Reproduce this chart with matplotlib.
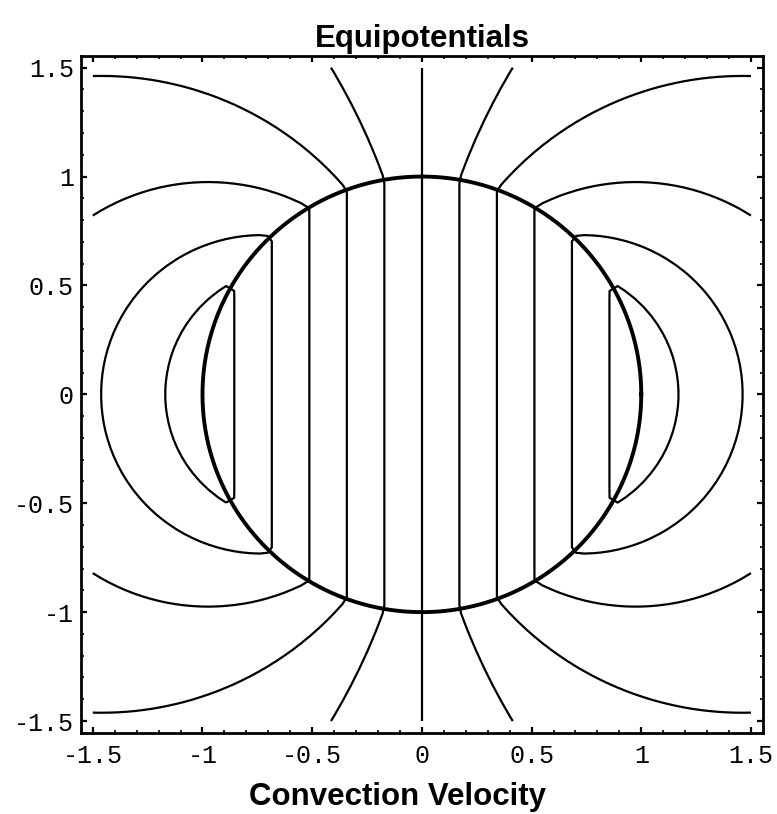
import numpy as np
import matplotlib.pyplot as plt
from matplotlib.ticker import MultipleLocator

# equipotential levels (uniform field inside the unit circle, dipole outside)
levels = [-0.855, -0.684, -0.513, -0.342, -0.171, 0.0,
          0.171, 0.342, 0.513, 0.684, 0.855]
tick_vals = [-1.5, -1, -0.5, 0, 0.5, 1, 1.5]
tick_text = ["-1.5", "-1", "-0.5", "0", "0.5", "1", "1.5"]
radius = 1.0
lim = 1.5

n = 80
x = np.linspace(-lim, lim, n)
y = np.linspace(-lim, lim, n)
X, Y = np.meshgrid(x, y)
R2 = X**2 + Y**2
phi = np.where(R2 < radius**2, X, X * radius**2 / R2)

fig = plt.figure(figsize=(7.77, 8.14), dpi=100)
ax = fig.add_axes([0.1039, 0.0995, 0.8781, 0.8321])

ax.contour(X, Y, phi, levels=levels, colors="black", linewidths=1.6,
           linestyles="solid")

t = np.linspace(0, 2 * np.pi, 400)
ax.plot(radius * np.cos(t), radius * np.sin(t), color="black", lw=2.8)

pad = 0.055
ax.set_xlim(-lim - pad, lim + pad)
ax.set_ylim(-lim - pad, lim + pad)

mono = ["Liberation Mono", "DejaVu Sans Mono"]
ax.set_xticks(tick_vals)
ax.set_xticklabels(tick_text, family=mono, fontsize=18)
ax.set_yticks(tick_vals)
ax.set_yticklabels(tick_text, family=mono, fontsize=18)
ax.xaxis.set_minor_locator(MultipleLocator(0.1))
ax.yaxis.set_minor_locator(MultipleLocator(0.1))
ax.tick_params(which="both", direction="in", top=True, right=True, color="black")
ax.tick_params(which="major", length=4.5, width=1.6)
ax.tick_params(which="minor", length=2.2, width=1.2)
ax.tick_params(axis="x", which="major", pad=8)
ax.tick_params(axis="y", which="major", pad=5)
for s in ax.spines.values():
    s.set_linewidth(2.0)

heading = ["Liberation Sans", "DejaVu Sans"]
fig.text(0.544, 1 - 47 / 814, "Equipotentials", ha="center", va="baseline",
         family=heading, fontweight="bold", fontsize=22.5)
fig.text(0.512, 1 - 805 / 814, "Convection Velocity", ha="center", va="baseline",
         family=heading, fontweight="bold", fontsize=22.5)

fig.savefig("out.png", dpi=100)
